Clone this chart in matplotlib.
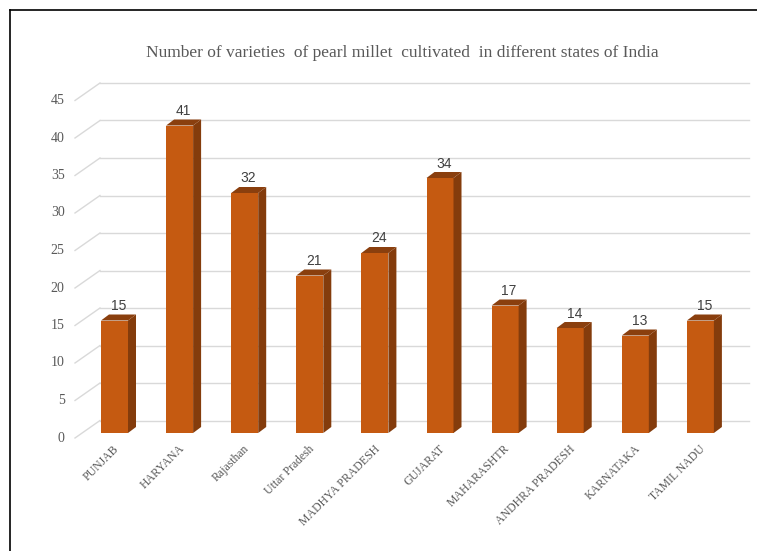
import matplotlib
matplotlib.use('Agg')
import matplotlib.pyplot as plt
from matplotlib.patches import Polygon
from matplotlib.lines import Line2D

# data
states = ['PUNJAB', 'HARYANA', 'Rajasthan', 'Uttar Pradesh', 'MADHYA PRADESH',
          'GUJARAT', 'MAHARASHTR', 'ANDHRA PRADESH', 'KARNATAKA', 'TAMIL NADU']
varieties = [15, 41, 32, 21, 24, 34, 17, 14, 13, 15]
y_ticks = [0, 5, 10, 15, 20, 25, 30, 35, 40, 45]

W, H = 757, 551
fig = plt.figure(figsize=(W / 100, H / 100), dpi=100)

# axes placed by pixel box (front face of the 3d plot)
left_px, right_px, top_px, bot_px = 75, 749, 80, 445
ax = fig.add_axes([left_px / W, 1 - bot_px / H,
                   (right_px - left_px) / W, (bot_px - top_px) / H])
px_per_unit_y = 7.5
px_per_cat = 65.1
ax.set_ylim(-(bot_px - 433) / px_per_unit_y, (433 - top_px) / px_per_unit_y)
ax.set_xlim((left_px - 114.5) / px_per_cat, (right_px - 114.5) / px_per_cat)
ax.axis('off')

grid_col = '#d9d9d9'
serif = 'Liberation Serif'
txt_col = '#595959'

# back wall offsets (3d look)
back_dx = (100 - 75) / px_per_cat
back_dy = (438 - 420.5) / px_per_unit_y
front_y = -(438 - 433) / px_per_unit_y
x0 = (left_px - 114.5) / px_per_cat
x1 = (right_px - 114.5) / px_per_cat

for v in y_ticks:
    ax.plot([x0, x0 + back_dx], [v + front_y, v + front_y + back_dy],
            color=grid_col, lw=1, zorder=1, clip_on=False)
    ax.plot([x0 + back_dx, x1], [v + front_y + back_dy] * 2,
            color=grid_col, lw=1, zorder=1, clip_on=False)
    ax.text(x0 - 0.16, v + front_y, str(v), ha='right', va='center',
            fontsize=10, family=serif, color=txt_col)

# bars: front face + side + top
bw = 27 / px_per_cat
ddx = 8 / px_per_cat
ddy = 6 / px_per_unit_y
front_col = '#c55a11'
side_col = '#843c0c'
top_col = '#8a3f0e'

xs = list(range(len(states)))
ax.bar(xs, varieties, width=bw, color=front_col, zorder=3)
for x, v in zip(xs, varieties):
    r = x + bw / 2
    l = x - bw / 2
    ax.add_patch(Polygon([(r, 0), (r + ddx, ddy), (r + ddx, v + ddy), (r, v)],
                         closed=True, color=side_col, zorder=3, lw=0))
    ax.add_patch(Polygon([(l, v), (r, v), (r + ddx, v + ddy), (l + ddx, v + ddy)],
                         closed=True, color=top_col, zorder=3, lw=0))
    ax.text(x + ddx / 2, v + ddy + 0.2, str(v), ha='center', va='bottom',
            fontsize=10, family='Liberation Sans', color='#404040')
    ax.text(x - 0.02, -1.3, states[x], ha='right', va='top',
            rotation=45, rotation_mode='anchor', fontsize=8.5,
            family=serif, color=txt_col)

fig.text(402 / W, 1 - 53 / H,
         'Number of varieties  of pearl millet  cultivated  in different states of India',
         ha='center', va='center', fontsize=12.5, family=serif, color=txt_col)

# outer frame (left and top edges visible)
fig.add_artist(Line2D([10 / W, 10 / W], [0, 1 - 10 / H], color='black', lw=1.2,
                      transform=fig.transFigure))
fig.add_artist(Line2D([10 / W, 1], [1 - 10 / H, 1 - 10 / H], color='black', lw=1.2,
                      transform=fig.transFigure))

fig.savefig('out.png', dpi=100)
